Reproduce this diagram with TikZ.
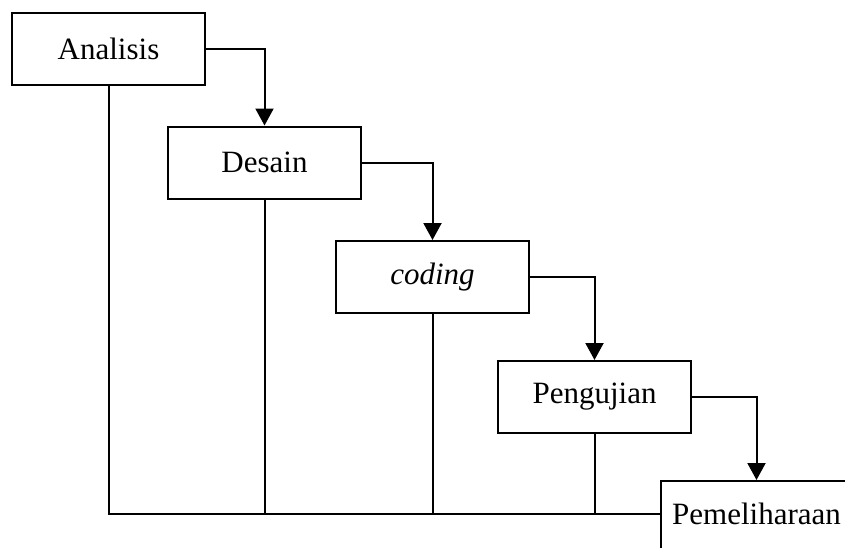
\documentclass[tikz,border=0pt]{standalone}
\usepackage{fontspec}
\setmainfont{Liberation Serif}
\usetikzlibrary{arrows.meta}
\begin{document}
\begin{tikzpicture}[x=1pt,y=-1pt,
  stage/.style={draw, line width=2pt, rectangle, minimum width=193pt, minimum height=72pt, inner sep=0pt, font=\fontsize{31}{35}\selectfont, fill=white},
  flow/.style={line width=2pt, -{Triangle[width=18pt,length=17pt]}},
  link/.style={line width=2pt}]
\useasboundingbox (0,0) rectangle (845,547);
\fill[white] (0,0) rectangle (845,547);
\clip (0,0) rectangle (845,547);
\node[stage] (A) at (108.5,49) {Analisis};
\node[stage] (D) at (264.5,162.5) {Desain};
\node[stage] (C) at (432.5,277) {\itshape coding};
\node[stage] (U) at (594.5,397) {Pengujian};
\coordinate (Pc) at (756.5,514);
\node[stage, minimum width=230pt, minimum height=80pt, anchor=north west] (P) at (660,480) {};
\node[font=\fontsize{31}{35}\selectfont] (PT) at (Pc) {Pemeliharaan};
\draw[flow] (A.east) -| (D.north);
\draw[flow] (D.east) -| (C.north);
\draw[flow] (C.east) -| (U.north);
\draw[flow] (U.east) -| (P.north -| Pc);
\draw[link] (A.south) |- (P.west |- Pc);
\draw[link] (D.south) -- (D.south |- Pc);
\draw[link] (C.south) -- (C.south |- Pc);
\draw[link] (U.south) -- (U.south |- Pc);
\end{tikzpicture}
\end{document}
